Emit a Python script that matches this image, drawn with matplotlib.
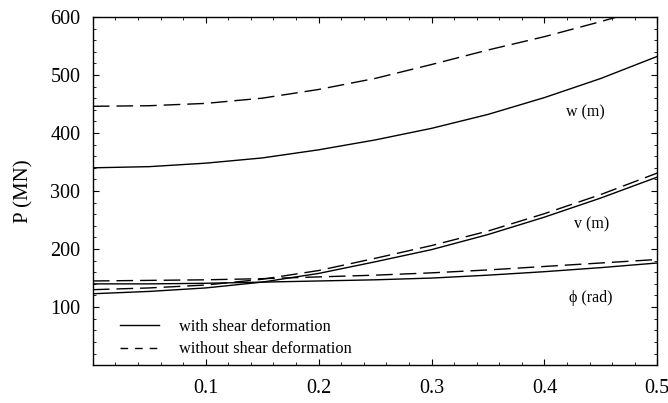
import numpy as np
import matplotlib.pyplot as plt
from matplotlib.lines import Line2D
from matplotlib.ticker import MultipleLocator

plt.rcParams['font.family'] = ['Liberation Serif', 'DejaVu Serif']

# x values (load ratio axis) and read-off curves P (MN)
x = [0.0, 0.05, 0.10, 0.15, 0.20, 0.25, 0.30, 0.35, 0.40, 0.45, 0.50]
w_shear = [340, 342, 348, 357, 371, 388, 408, 432, 461, 494, 532]
w_noshear = [446, 447, 451, 460, 475, 494, 518, 543, 566, 592, 620]
v_shear = [123, 127, 133, 143, 158, 178, 199, 225, 255, 288, 324]
v_noshear = [130, 133, 138, 148, 163, 184, 206, 231, 261, 294, 331]
phi_shear = [140, 140, 141, 143, 145, 147, 150, 155, 161, 168, 176]
phi_noshear = [145, 146, 147, 149, 152, 155, 159, 164, 170, 176, 182]

curve_labels = ["w (m)", "v (m)", "\u03d5 (rad)"]
label_pos = [(0.436, 436), (0.442, 243), (0.441, 116)]

fig = plt.figure(figsize=(6.68, 4.03), dpi=100)
ax = fig.add_axes([0.139, 0.094, 0.845, 0.864])

lw = 1.0
dash = (12, 5)
for ys in [w_shear, v_shear, phi_shear]:
    ax.plot(x, ys, color="black", lw=lw)
for ys in [w_noshear, v_noshear, phi_noshear]:
    ax.plot(x, ys, color="black", lw=lw, linestyle=(0, dash))

for txt, (tx, ty) in zip(curve_labels, label_pos):
    ax.text(tx, ty, txt, fontsize=11.5, ha="center", va="center")

handles = [Line2D([], [], color="black", lw=lw),
           Line2D([], [], color="black", lw=lw, linestyle=(0, (5.5, 5)))]
ax.legend(handles, ["with shear deformation", "without shear deformation"],
          loc="lower left", bbox_to_anchor=(0.022, -0.02), frameon=False,
          fontsize=11.8, handlelength=2.4, handletextpad=1.2, labelspacing=0.4)

ax.set_xlim(0, 0.5)
ax.set_ylim(0, 600)
ax.set_xticks([0.1, 0.2, 0.3, 0.4, 0.5])
ax.set_xticklabels(["0.1", "0.2", "0.3", "0.4", "0.5"])
ax.set_yticks([100, 200, 300, 400, 500, 600])
ax.xaxis.set_minor_locator(MultipleLocator(0.02))
ax.yaxis.set_minor_locator(MultipleLocator(20))
ax.tick_params(which="both", direction="in", top=True, right=True, labelsize=14.5)
ax.tick_params(which="major", length=4.5, width=0.8)
ax.tick_params(which="minor", length=2.5, width=0.6)
ax.tick_params(axis="x", pad=10)
ax.tick_params(axis="y", pad=9)
for s in ax.spines.values():
    s.set_linewidth(1.0)

ax.set_ylabel("P (MN)", fontsize=15, labelpad=12)

fig.savefig("out.png", dpi=100)
